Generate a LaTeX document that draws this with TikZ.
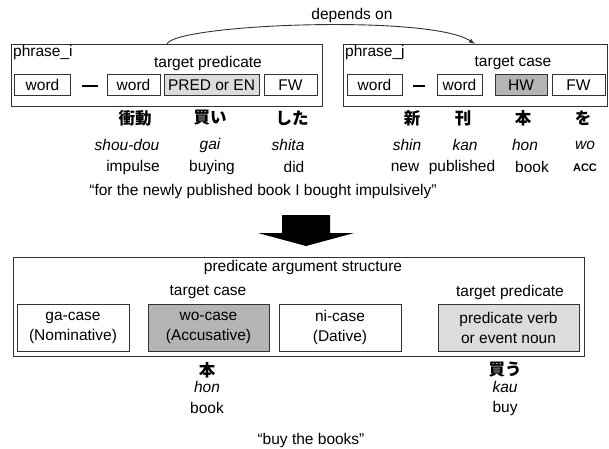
\documentclass[tikz,border=0pt]{standalone}
\usepackage{fontspec}
\setmainfont{Liberation Sans}
\newfontfamily\jpfont{Noto Sans CJK JP}
\usetikzlibrary{arrows.meta}
\definecolor{lightfill}{HTML}{DCDCDC}
\definecolor{darkfill}{HTML}{B4B4B4}
\definecolor{edge}{HTML}{333333}
\tikzset{
  txt/.style={inner sep=0pt, font=\fontsize{15.5}{17}\selectfont},
  frame/.style={draw=edge, line width=0.8pt},
  panel/.style={frame, inner sep=0pt, anchor=north west},
  wordbox/.style={txt, frame, minimum height=21pt, fill=white},
  casebox/.style={inner sep=0pt, font=\fontsize{15.5}{20}\selectfont, frame,
    minimum height=47pt, align=center, fill=white},
  jp/.style={inner sep=0pt, font=\jpfont\bfseries\fontsize{16.5}{18}\selectfont},
  rom/.style={inner sep=0pt, font=\itshape\fontsize{15.5}{17}\selectfont},
  gloss/.style={txt},
  dashmark/.style={inner sep=0pt},
}
\begin{document}
\begin{tikzpicture}[x=1pt,y=-1pt]
\useasboundingbox (0,0) rectangle (609,448);

% ---- phrase i ----
\node[panel, minimum width=311pt, minimum height=62pt] (pi) at (11,44) {};
\node[txt, anchor=north west] (pilab) at (13,45) {phrase\_i};
\node[txt] (tpred) at (208,63) {target predicate};
\node[wordbox, minimum width=56pt] (w1) at (42.5,85) {word};
\node[dashmark] (d1) at (90,86) {\rule{16pt}{2.6pt}};
\node[wordbox, minimum width=53pt] (w2) at (133.5,85) {word};
\node[wordbox, minimum width=95pt, fill=lightfill] (pred) at (211.5,85) {PRED or EN};
\node[wordbox, minimum width=53pt] (fw1) at (290.5,85) {FW};

% ---- phrase j ----
\node[panel, minimum width=264pt, minimum height=62pt] (pj) at (343,44) {};
\node[txt, anchor=north west] (pjlab) at (345,45) {phrase\_j};
\node[txt] (tcase) at (513,63) {target case};
\node[wordbox, minimum width=55pt] (w3) at (374.5,85) {word};
\node[dashmark] (d2) at (419,86) {\rule{12pt}{2.6pt}};
\node[wordbox, minimum width=45pt] (w4) at (459.5,85) {word};
\node[wordbox, minimum width=52pt, fill=darkfill] (hw) at (521,85) {HW};
\node[wordbox, minimum width=53pt] (fw2) at (578.5,85) {FW};

% ---- dependency between the phrases ----
\coordinate (depS) at (167,44);
\coordinate (depE) at (475,44);
\draw[edge, line width=0.9pt, -{Latex[length=6pt,width=4.5pt]}]
  (depS) .. controls (175,24) and (430,14) .. (depE);
\node[txt] (deplab) at (352,15) {depends on};

% ---- source sentence ----
\node[jp] (j1) at (135,118) {衝動};
\node[jp] (j2) at (210,118) {買い};
\node[jp] (j3) at (292,118) {した};
\node[jp] (j4) at (412,118) {新};
\node[jp] (j5) at (463,118) {刊};
\node[jp] (j6) at (523,118) {本};
\node[jp] (j7) at (583,118) {を};

\node[rom] (r1) at (127,145) {shou-dou};
\node[rom] (r2) at (210,145) {gai};
\node[rom] (r3) at (288,145) {shita};
\node[rom] (r4) at (407,145) {shin};
\node[rom] (r5) at (465,145) {kan};
\node[rom] (r6) at (525,145) {hon};
\node[rom] (r7) at (585,145) {wo};

\node[gloss] (g1) at (133,167) {impulse};
\node[gloss] (g2) at (212,167) {buying};
\node[gloss] (g3) at (294,167) {did};
\node[gloss] (g4) at (405,167) {new};
\node[gloss] (g5) at (462,167) {published};
\node[gloss] (g6) at (532,167) {book};
\node[gloss, font=\bfseries\fontsize{11}{13}\selectfont] (g7) at (585,168) {ACC};

\node[txt] (trans1) at (263,191) {“for the newly published book I bought impulsively”};

% ---- block arrow ----
\fill[black] (282,215) -- (330,215) -- (330,233) -- (354,233) -- (306,246)
  -- (258,233) -- (282,233) -- cycle;

% ---- predicate argument structure ----
\node[panel, minimum width=571pt, minimum height=99pt] (pas) at (13,257) {};
\node[txt] (pastitle) at (303,267) {predicate argument structure};
\node[txt] (tcase2) at (208,292) {target case};
\node[txt] (tpred2) at (510,292) {target predicate};
\node[casebox, minimum width=112pt] (ga) at (73,327.5) {ga-case\\(Nominative)};
\node[casebox, minimum width=121pt, fill=darkfill] (wo) at (208.5,327.5) {wo-case\\(Accusative)};
\node[casebox, minimum width=122pt] (ni) at (340,327.5) {ni-case\\(Dative)};
\node[casebox, minimum width=141pt, fill=lightfill] (pv) at (508.5,327.5) {predicate verb\\or event noun};

\node[jp] (jb1) at (207,370) {本};
\node[rom] (rb1) at (207,387) {hon};
\node[gloss] (gb1) at (207,408) {book};
\node[jp] (jb2) at (505,370) {買う};
\node[rom] (rb2) at (505,387) {kau};
\node[gloss] (gb2) at (505,408) {buy};

\node[txt] (trans2) at (311,440) {“buy the books”};
\end{tikzpicture}
\end{document}
